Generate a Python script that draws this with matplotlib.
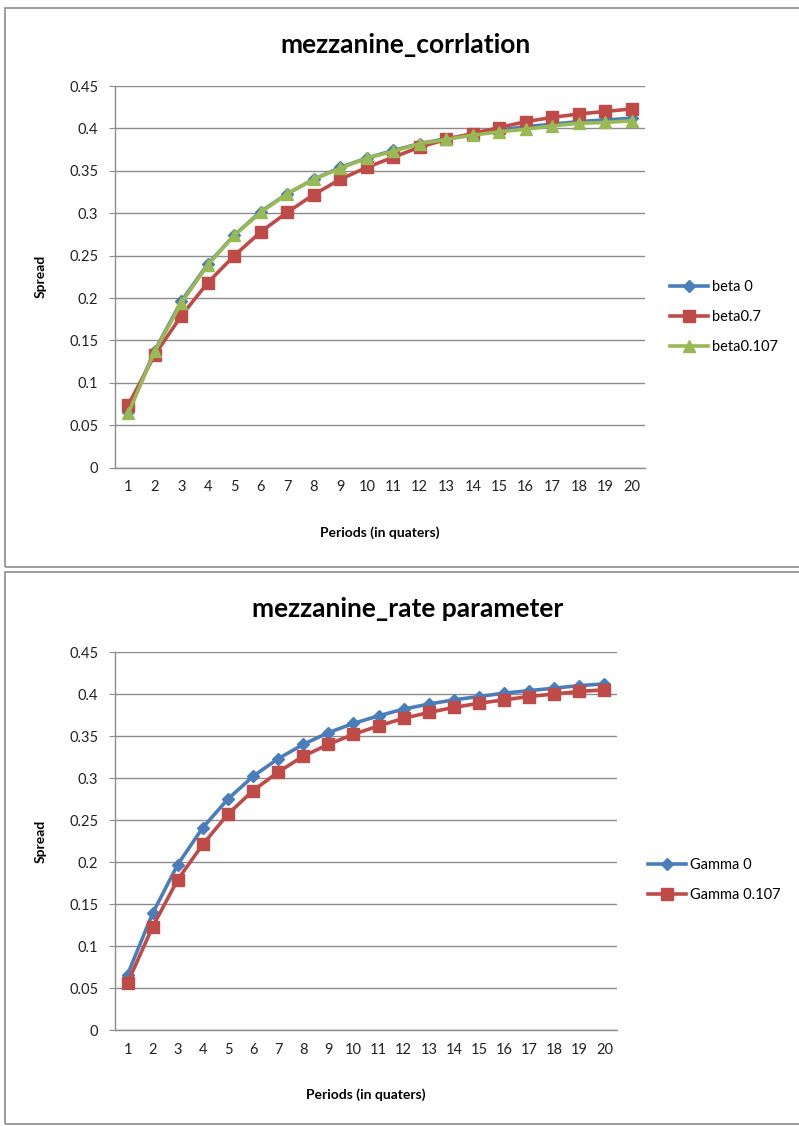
import matplotlib
matplotlib.use("Agg")
import matplotlib.pyplot as plt
from matplotlib.patches import Rectangle

plt.rcParams['font.family'] = ['Lato', 'DejaVu Sans']

periods = list(range(1, 21))

# Spread by period, correlation scenarios
beta_0 = [0.066, 0.138, 0.196, 0.240, 0.274, 0.302, 0.323, 0.340, 0.354, 0.365,
          0.374, 0.382, 0.388, 0.393, 0.398, 0.402, 0.405, 0.408, 0.410, 0.412]
beta_07 = [0.074, 0.133, 0.179, 0.218, 0.250, 0.278, 0.301, 0.322, 0.340, 0.354,
           0.366, 0.378, 0.387, 0.394, 0.401, 0.408, 0.413, 0.417, 0.420, 0.423]
beta_0107 = [0.064, 0.137, 0.194, 0.239, 0.274, 0.301, 0.323, 0.340, 0.353, 0.365,
             0.373, 0.382, 0.387, 0.392, 0.396, 0.399, 0.403, 0.406, 0.407, 0.409]

# Spread by period, rate parameter scenarios
gamma_0 = [0.066, 0.139, 0.197, 0.241, 0.275, 0.302, 0.323, 0.340, 0.354, 0.365,
           0.374, 0.382, 0.388, 0.393, 0.397, 0.401, 0.404, 0.407, 0.410, 0.412]
gamma_0107 = [0.056, 0.123, 0.179, 0.221, 0.257, 0.285, 0.307, 0.326, 0.340, 0.352,
              0.362, 0.371, 0.378, 0.384, 0.389, 0.393, 0.397, 0.400, 0.403, 0.405]

yticks = [0, 0.05, 0.1, 0.15, 0.2, 0.25, 0.3, 0.35, 0.4, 0.45]
ytick_labels = ['0', '0.05', '0.1', '0.15', '0.2', '0.25', '0.3', '0.35', '0.4', '0.45']

BLUE = '#4A7EBB'
RED = '#BE4B48'
GREEN = '#98B954'
GRID = '#8C8C8C'

W, H = 799, 1126
fig = plt.figure(figsize=(W / 100, H / 100), dpi=100)


def px_axes(left, top, right, bottom):
    return fig.add_axes([left / W, 1 - bottom / H, (right - left) / W, (bottom - top) / H])


def style_axes(ax):
    ax.set_xlim(0.5, 20.5)
    ax.set_ylim(0, 0.45)
    ax.set_yticks(yticks)
    ax.set_yticklabels(ytick_labels)
    ax.set_xticks(periods)
    ax.set_xticklabels([str(p) for p in periods])
    ax.yaxis.grid(True, color=GRID, linewidth=1.0)
    ax.set_axisbelow(True)
    for s in ('top', 'right'):
        ax.spines[s].set_visible(False)
    for s in ('left', 'bottom'):
        ax.spines[s].set_color(GRID)
        ax.spines[s].set_linewidth(1.0)
    ax.tick_params(axis='y', length=4, color=GRID, labelsize=10.5, pad=8, labelcolor='#222222')
    ax.tick_params(axis='x', length=0, labelsize=10.5, pad=9, labelcolor='#222222')
    ax.set_ylabel('Spread', fontsize=10, fontweight='bold', labelpad=16)
    ax.set_xlabel('Periods (in quaters)', fontsize=10, fontweight='bold', labelpad=23)


# Panel frames
fig.patches.append(Rectangle((5 / W, 1 - 567 / H), 800 / W, 559 / H, transform=fig.transFigure,
                             fill=False, edgecolor='#8C8C8C', linewidth=1.2))
fig.patches.append(Rectangle((5 / W, 1 - 1124 / H), 800 / W, 552 / H, transform=fig.transFigure,
                             fill=False, edgecolor='#8C8C8C', linewidth=1.2))

# Upper panel: correlation
ax1 = px_axes(115, 86, 645, 467.7)
style_axes(ax1)
ax1.plot(periods, beta_0, color=BLUE, linewidth=2.6, marker='D', markersize=6, label='beta 0')
ax1.plot(periods, beta_07, color=RED, linewidth=2.6, marker='s', markersize=8.5, label='beta0.7')
ax1.plot(periods, beta_0107, color=GREEN, linewidth=2.6, marker='^', markersize=8, label='beta0.107')
fig.text(405 / W, 1 - 45 / H, 'mezzanine_corrlation', ha='center', va='center',
         fontsize=19, fontweight='bold')
ax1.legend(loc='center left', bbox_to_anchor=(657 / W, 1 - 317 / H), bbox_transform=fig.transFigure,
           frameon=False, fontsize=10.5, handlelength=2.6, labelspacing=1.1, handletextpad=0.3)

# Lower panel: rate parameter
ax2 = px_axes(115, 652, 617, 1030)
style_axes(ax2)
ax2.plot(periods, gamma_0, color=BLUE, linewidth=2.6, marker='D', markersize=6, label='Gamma 0')
ax2.plot(periods, gamma_0107, color=RED, linewidth=2.6, marker='s', markersize=8.5, label='Gamma 0.107')
fig.text(408 / W, 1 - 609 / H, 'mezzanine_rate parameter', ha='center', va='center',
         fontsize=19, fontweight='bold')
ax2.legend(loc='center left', bbox_to_anchor=(635 / W, 1 - 880 / H), bbox_transform=fig.transFigure,
           frameon=False, fontsize=10.5, handlelength=2.6, labelspacing=1.1, handletextpad=0.3)

fig.savefig('out.png', dpi=100)
